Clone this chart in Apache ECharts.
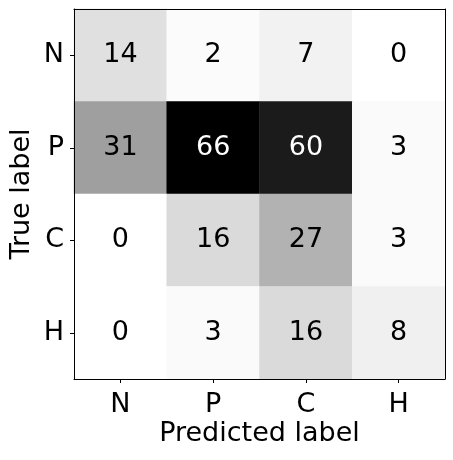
<!DOCTYPE html>
<html>
<head>
<meta charset="utf-8">
<script src="https://cdn.jsdelivr.net/npm/echarts@6/dist/echarts.min.js"></script>
<style>
  html, body { margin: 0; padding: 0; background: #fff; }
  #chart { width: 453px; height: 460px; }
</style>
</head>
<body>
<div id="chart"></div>
<script>
// confusion matrix, rows = true label, cols = predicted label
var labels = ['N', 'P', 'C', 'H']
var rowN = [14, 2, 7, 0]
var rowP = [31, 66, 60, 3]
var rowC = [0, 16, 27, 3]
var rowH = [0, 3, 16, 8]
var rows = [rowN, rowP, rowC, rowH]

// matplotlib "Greys"
var greys = ['#ffffff', '#f0f0f0', '#d9d9d9', '#bdbdbd', '#969696', '#737373', '#525252', '#252525', '#000000']

var cells = []
var vmin = Infinity, vmax = -Infinity
rows.forEach(function (r, i) {
  r.forEach(function (v, j) {
    cells.push([j, i, v])
    vmin = Math.min(vmin, v)
    vmax = Math.max(vmax, v)
  })
})
var thresh = (vmin + vmax) / 2

var font = 'DejaVu Sans'
var fs = 27
var frame = { show: true, lineStyle: { color: '#000', width: 1 } }

var chart = echarts.init(document.getElementById('chart'))
chart.setOption({
  animation: false,
  textStyle: { fontFamily: font },
  grid: { left: 74, top: 9, width: 371, height: 370, outerBoundsMode: 'none' },
  visualMap: {
    show: false,
    min: vmin,
    max: vmax,
    dimension: 2,
    inRange: { color: greys }
  },
  xAxis: [{
    type: 'category',
    data: labels,
    position: 'bottom',
    z: 10,
    axisLine: frame,
    axisTick: { show: true, alignWithLabel: true, length: 4, lineStyle: { color: '#000' } },
    axisLabel: { color: '#000', fontSize: fs, fontFamily: font, margin: 12 },
    splitLine: { show: false },
    name: 'Predicted label',
    nameLocation: 'middle',
    nameGap: 41,
    nameMoveOverlap: false,
    nameTextStyle: { color: '#000', fontSize: fs, fontFamily: font }
  }, {
    type: 'category',
    data: labels,
    position: 'top',
    z: 10,
    axisLine: frame,
    axisTick: { show: false },
    axisLabel: { show: false }
  }],
  yAxis: [{
    type: 'category',
    data: labels,
    inverse: true,
    position: 'left',
    z: 10,
    axisLine: frame,
    axisTick: { show: true, alignWithLabel: true, length: 4, lineStyle: { color: '#000' } },
    axisLabel: { color: '#000', fontSize: fs, fontFamily: font, margin: 10, padding: [4, 0, 0, 0] },
    splitLine: { show: false },
    name: 'True label',
    nameLocation: 'middle',
    nameRotate: 90,
    nameGap: 39,
    nameMoveOverlap: false,
    nameTextStyle: { color: '#000', fontSize: fs, fontFamily: font }
  }, {
    type: 'category',
    data: labels,
    inverse: true,
    position: 'right',
    z: 10,
    axisLine: frame,
    axisTick: { show: false },
    axisLabel: { show: false }
  }],
  series: [{
    type: 'heatmap',
    data: cells.map(function (c) {
      return {
        value: c,
        // white text on dark cells, like matplotlib
        label: { color: c[2] > thresh ? '#fff' : '#000' }
      }
    }),
    label: {
      show: true,
      fontSize: fs,
      fontFamily: font,
      formatter: function (p) { return p.value[2] }
    },
    itemStyle: { borderWidth: 0 },
    emphasis: { disabled: true }
  }]
})
</script>
</body>
</html>
